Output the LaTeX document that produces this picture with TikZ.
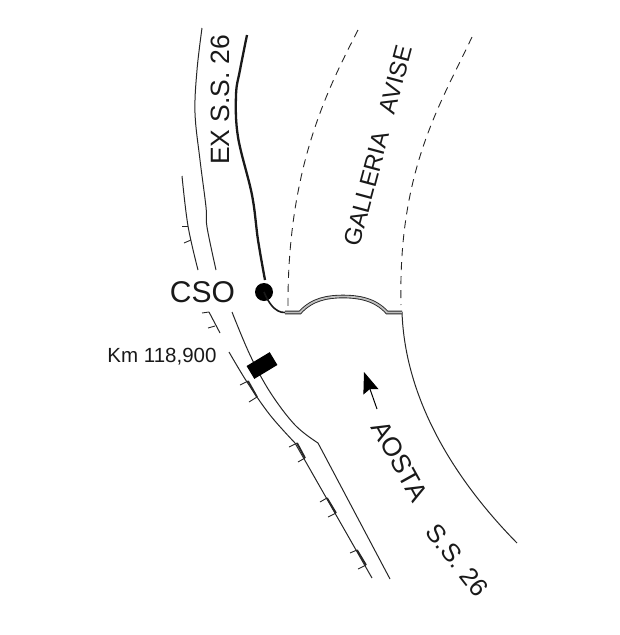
\documentclass[tikz,border=0pt]{standalone}
\usepackage{fontspec}
\setmainfont{Liberation Sans}
\usetikzlibrary{arrows.meta}
\tikzset{
  road/.style={line width=1pt,black!85},
  track/.style={line width=2.3pt,black!90},
  tunnel/.style={line width=0.9pt,black!85,dash pattern=on 8pt off 6pt},
  sleeper/.style={line width=0.9pt,black!85},
  label/.style={inner sep=0pt,text=black!90},
}
\begin{document}
\begin{tikzpicture}[x=1pt,y=-1pt]
    \useasboundingbox (0,0) rectangle (620,635);

    % ex s.s. 26
    \draw[road] plot[smooth,tension=0.6] coordinates {(202,28) (197,70) (195,113) (200,160) (206,207) (207,227) (216,270)};
    \draw[track] plot[smooth,tension=0.6] coordinates {(247,35) (240,70) (236,95) (238,137) (252,195) (258,240) (265,280)};

    % galleria
    \draw[tunnel] (358,30) .. controls (330,85) and (287,165) .. (288,308);
    \draw[tunnel] (472,37) .. controls (440,105) and (398,170) .. (401,305);

    % left edge of s.s. 26
    \draw[road] plot[smooth,tension=0.6] coordinates {(232,312) (250,355) (270,392) (295,425) (318,443)} -- (390,579);
    \draw[road] (402,312) .. controls (405,400) and (455,480) .. (517,543);

    % embankment
    \draw[road] plot[smooth,tension=0.6] coordinates {(182,176) (188,226) (198,270)};
    \draw[road] (209,312) -- (220,333);
    \draw[road] plot[smooth,tension=0.6] coordinates {(229,352) (247,382) (270,415) (295,443)} -- (372,578);
    \foreach \xa/\ya/\xb/\yb in {182/226/188/226, 184/243/191/240, 202/313/209/312, 208/328/215/326,
        240/385/248/381, 249/402/257/397, 289/447/297/443, 298/462/305/458,
        320/502/327/498, 328/517/336/513, 350/553/357/550, 358/569/366/565}
        \draw[sleeper] (\xa,\ya) -- (\xb,\yb);
    \foreach \xa/\ya/\xb/\yb in {248/381/257/397, 297/443/305/458, 327/498/336/513, 357/550/366/565}
        \draw[line width=1.8pt,black!85] (\xa,\ya) -- (\xb,\yb);

    % portal
    \coordinate (p1) at (285,312.5);
    \coordinate (p2) at (300,312.5);
    \coordinate (p3) at (387,312.5);
    \coordinate (p4) at (402,312.5);
    \draw[line width=3.6pt,black!85] (p1) -- (p2) .. controls (312,299) and (328,296.5) .. (343,296.5) .. controls (358,296.5) and (375,299) .. (p3) -- (p4);
    \draw[line width=1.8pt,black!25] (p1) -- (p2) .. controls (312,299) and (328,296.5) .. (343,296.5) .. controls (358,296.5) and (375,299) .. (p3) -- (p4);

    % cso
    \node[circle,fill=black,inner sep=0pt,minimum size=18pt] (cso) at (264,292) {};
    \draw[line width=1.6pt,black!90] (cso.center) .. controls (268,302) and (275,313) .. (p1);
    \node[label,font=\fontsize{30}{30}\selectfont] (csotext) at (202.5,292) {CSO};

    % km
    \node[label,font=\fontsize{20.5}{21}\selectfont] (km) at (162,357) {Km 118,900};
    \node[fill=black,rotate=31,minimum width=27pt,minimum height=15pt,inner sep=0pt] (mark) at (262,365.5) {};

    % labels
    \node[label,rotate=90,font=\fontsize{26.5}{27}\selectfont] (exss) at (220,100) {EX S.S. 26};
    \node[label,rotate=75,font=\fontsize{24}{25}\selectfont] (avise) at (378,146) {GALLERIA\ \ \ AVISE};
    \node[label,rotate=-61,font=\fontsize{26.5}{27}\selectfont] (aosta) at (400,461) {AOSTA};
    \node[label,rotate=-52,font=\fontsize{25.5}{26}\selectfont] (ss) at (457,560) {S.S. 26};

    % direction
    \coordinate (dirfrom) at (377,409);
    \coordinate (dirto) at (364,372);
    \draw[line width=1pt,-{Stealth[length=21pt,width=16pt,inset=3pt]}] (dirfrom) -- (dirto);
\end{tikzpicture}
\end{document}
